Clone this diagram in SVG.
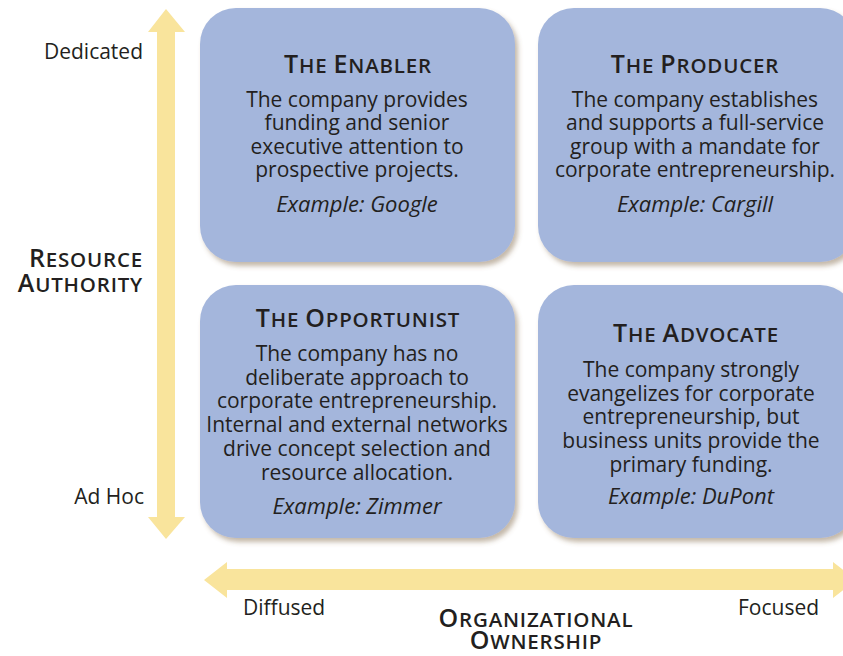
<svg xmlns="http://www.w3.org/2000/svg" width="843" height="656" viewBox="0 0 843 656">
<defs>
<style>
.box{fill:#a4b6dc;filter:url(#sh)}
.arrow{fill:#f9e49c}
text{font-family:"Open Sans","Noto Sans","Liberation Sans",sans-serif;fill:#231f20;font-weight:500}
.b{font-size:21px;text-anchor:middle}
.ex{font-size:22px;text-anchor:middle;font-style:italic}
.h{font-size:25px;text-anchor:middle;letter-spacing:0.8px;font-weight:600}
.sc{font-size:20.5px}
.lab{font-size:21px}
.r{text-anchor:end}
.m{text-anchor:middle}
</style>
<filter id="sh" x="-10%" y="-10%" width="130%" height="130%">
<feDropShadow dx="3" dy="4" stdDeviation="2.5" flood-color="#7a6040" flood-opacity="0.45"/>
</filter>
</defs>
<rect width="843" height="656" fill="#fff"/>
<g id="connectors">
<polygon class="arrow" points="166,9 185,32 175,32 175,517 185,517 166,539 148,517 157,517 157,32 148,32"/>
<polygon class="arrow" points="204,580 227,562 227,569 833,569 833,562 856,580 833,598 833,590 227,590 227,598"/>
</g>
<g id="axis-labels">
<text class="lab r" x="143" y="59">Dedicated</text>
<text class="lab r" x="144" y="504">Ad Hoc</text>
<text class="h r" x="143" y="267">R<tspan class="sc">ESOURCE</tspan></text>
<text class="h r" x="143" y="292">A<tspan class="sc">UTHORITY</tspan></text>
<text class="lab" x="243" y="615">Diffused</text>
<text class="lab" x="738" y="615">Focused</text>
<text class="h m" x="536" y="627">O<tspan class="sc">RGANIZATIONAL</tspan></text>
<text class="h m" x="536" y="649">O<tspan class="sc">WNERSHIP</tspan></text>
</g>
<g id="enabler">
<rect class="box" x="200" y="8" width="315" height="254" rx="36"/>
<text class="h" x="358" y="73">T<tspan class="sc">HE </tspan>E<tspan class="sc">NABLER</tspan></text>
<text class="b" x="357" y="107">The company provides</text>
<text class="b" x="357" y="130">funding and senior</text>
<text class="b" x="357" y="154">executive attention to</text>
<text class="b" x="357" y="177">prospective projects.</text>
<text class="ex" x="357" y="212">Example: Google</text>
</g>
<g id="producer">
<rect class="box" x="538" y="8" width="318" height="254" rx="36"/>
<text class="h" x="695" y="73">T<tspan class="sc">HE </tspan>P<tspan class="sc">RODUCER</tspan></text>
<text class="b" x="695" y="107">The company establishes</text>
<text class="b" x="695" y="130">and supports a full-service</text>
<text class="b" x="695" y="154">group with a mandate for</text>
<text class="b" x="695" y="177">corporate entrepreneurship.</text>
<text class="ex" x="695" y="212">Example: Cargill</text>
</g>
<g id="opportunist">
<rect class="box" x="200" y="285" width="315" height="253" rx="36"/>
<text class="h" x="358" y="327">T<tspan class="sc">HE </tspan>O<tspan class="sc">PPORTUNIST</tspan></text>
<text class="b" x="357" y="361">The company has no</text>
<text class="b" x="357" y="385">deliberate approach to</text>
<text class="b" x="357" y="408">corporate entrepreneurship.</text>
<text class="b" x="357" y="432">Internal and external networks</text>
<text class="b" x="357" y="456">drive concept selection and</text>
<text class="b" x="357" y="480">resource allocation.</text>
<text class="ex" x="357" y="514">Example: Zimmer</text>
</g>
<g id="advocate">
<rect class="box" x="538" y="285" width="318" height="253" rx="36"/>
<text class="h" x="696" y="342">T<tspan class="sc">HE </tspan>A<tspan class="sc">DVOCATE</tspan></text>
<text class="b" x="691" y="377">The company strongly</text>
<text class="b" x="691" y="401">evangelizes for corporate</text>
<text class="b" x="691" y="424">entrepreneurship, but</text>
<text class="b" x="691" y="448">business units provide the</text>
<text class="b" x="691" y="472">primary funding.</text>
<text class="ex" x="691" y="504">Example: DuPont</text>
</g>
</svg>
